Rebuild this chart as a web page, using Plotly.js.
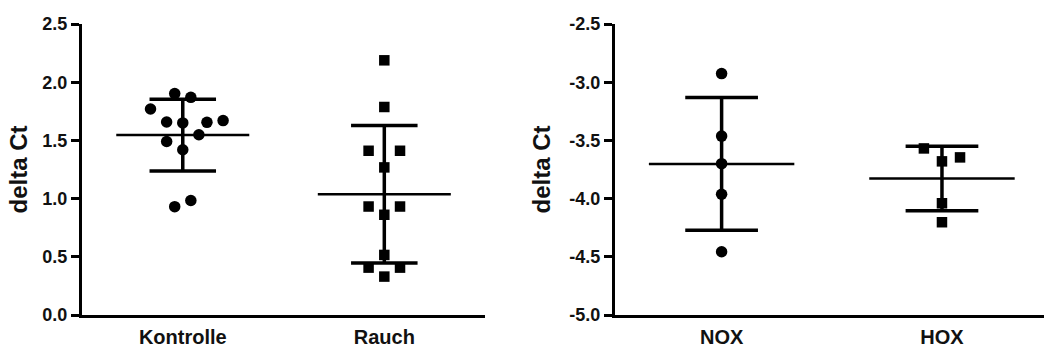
<!DOCTYPE html>
<html>
<head>
<meta charset="utf-8">
<script src="https://cdn.plot.ly/plotly-3.0.1.min.js"></script>
<style>
html,body{margin:0;padding:0;background:#fff;}
#chart{width:1044px;height:349px;}
</style>
</head>
<body>
<div id="chart"></div>
<script>
// ---- data ----
const leftCategories = ['Kontrolle', 'Rauch'];
const rightCategories = ['NOX', 'HOX'];

const kontrolleValues = [1.902, 1.870, 1.770, 1.658, 1.650, 1.655, 1.670, 1.549, 1.491, 1.420, 0.931, 0.984];
const kontrolleJitter = [-0.04, 0.04, -0.16, -0.08, 0, 0.12, 0.2, 0.08, -0.08, 0, -0.04, 0.04];

const rauchValues = [2.188, 1.787, 1.411, 1.411, 1.268, 0.932, 0.932, 0.861, 0.516, 0.407, 0.407, 0.330];
const rauchJitter = [0, 0, -0.078, 0.078, 0, -0.078, 0.078, 0, 0, -0.078, 0.078, 0];

const noxValues = [-2.926, -3.463, -3.700, -3.963, -4.457];
const noxJitter = [0, 0, 0, 0, 0];

const hoxValues = [-3.569, -3.680, -3.646, -4.040, -4.203];
const hoxJitter = [-0.082, 0, 0.082, 0, 0];

const leftTickVals = [0, 0.5, 1.0, 1.5, 2.0, 2.5];
const leftTickText = ['0.0', '0.5', '1.0', '1.5', '2.0', '2.5'];
const rightTickVals = [-5.0, -4.5, -4.0, -3.5, -3.0, -2.5];
const rightTickText = ['-5.0', '-4.5', '-4.0', '-3.5', '-3.0', '-2.5'];

const yTitle = 'delta Ct';

// ---- helpers ----
function mean(a) { return a.reduce((s, v) => s + v, 0) / a.length; }
function sd(a) {
  const m = mean(a);
  return Math.sqrt(a.reduce((s, v) => s + (v - m) * (v - m), 0) / (a.length - 1));
}

const MEAN_HALF = 0.33;
const CAP_HALF = 0.165;
const FONT = 'Liberation Sans, Arial, Helvetica, sans-serif';

function groupTraces(idx, values, jitter, symbol, size, xa, ya) {
  const m = mean(values), s = sd(values);
  const pts = {
    type: 'scatter', mode: 'markers', xaxis: xa, yaxis: ya,
    x: values.map((v, i) => idx + jitter[i]), y: values,
    marker: { symbol: symbol, size: size, color: '#000', line: { width: 0 } },
    hoverinfo: 'y', showlegend: false
  };
  const meanLine = {
    type: 'scatter', mode: 'lines', xaxis: xa, yaxis: ya,
    x: [idx - MEAN_HALF, idx + MEAN_HALF], y: [m, m],
    line: { color: '#000', width: 2.5 }, hoverinfo: 'skip', showlegend: false
  };
  const sdLines = {
    type: 'scatter', mode: 'lines', xaxis: xa, yaxis: ya,
    x: [idx, idx, null, idx - CAP_HALF, idx + CAP_HALF, null, idx - CAP_HALF, idx + CAP_HALF],
    y: [m - s, m + s, null, m + s, m + s, null, m - s, m - s],
    line: { color: '#000', width: 3.5 }, hoverinfo: 'skip', showlegend: false
  };
  return [pts, meanLine, sdLines];
}

const traces = [].concat(
  groupTraces(0, kontrolleValues, kontrolleJitter, 'circle', 11.5, 'x', 'y'),
  groupTraces(1, rauchValues, rauchJitter, 'square', 10.5, 'x', 'y'),
  groupTraces(0, noxValues, noxJitter, 'circle', 11.5, 'x2', 'y2'),
  groupTraces(1, hoxValues, hoxJitter, 'square', 10.5, 'x2', 'y2')
);

const tickFont = { family: FONT, size: 18, color: '#111', weight: 'bold' };
const catFont = { family: FONT, size: 20, color: '#111', weight: 'bold' };
const titleFont = { family: FONT, size: 24, color: '#111', weight: 'bold' };

const baseX = {
  showline: true, linecolor: '#000', linewidth: 3,
  showgrid: false, zeroline: false, ticks: '', fixedrange: true,
  tickfont: catFont, tickmode: 'array', automargin: false, ticklabelstandoff: 2
};
const baseY = {
  showline: true, linecolor: '#000', linewidth: 3,
  showgrid: false, zeroline: false, ticks: 'outside', ticklen: 8, tickwidth: 3,
  tickcolor: '#000', tickfont: tickFont, tickmode: 'array', automargin: false,
  fixedrange: true
};

const layout = {
  width: 1044, height: 349,
  margin: { l: 82, r: 0, t: 24, b: 34 },
  paper_bgcolor: '#fff', plot_bgcolor: '#fff',
  showlegend: false,
  xaxis: Object.assign({}, baseX, {
    domain: [0, 0.419], range: [-0.5, 1.5], anchor: 'y',
    tickvals: [0, 1], ticktext: leftCategories
  }),
  yaxis: Object.assign({}, baseY, {
    domain: [0, 1], range: [0, 2.5], anchor: 'x',
    tickvals: leftTickVals, ticktext: leftTickText,
    title: { text: yTitle, font: titleFont, standoff: 8 }
  }),
  xaxis2: Object.assign({}, baseX, {
    domain: [0.554, 1], range: [-0.484, 1.463], anchor: 'y2',
    tickvals: [0, 1], ticktext: rightCategories
  }),
  yaxis2: Object.assign({}, baseY, {
    domain: [0, 1], range: [-5.0, -2.5], anchor: 'x2',
    tickvals: rightTickVals, ticktext: rightTickText,
    title: { text: yTitle, font: titleFont, standoff: 12 }
  })
};

Plotly.newPlot('chart', traces, layout, { displayModeBar: false, staticPlot: true });
</script>
</body>
</html>
